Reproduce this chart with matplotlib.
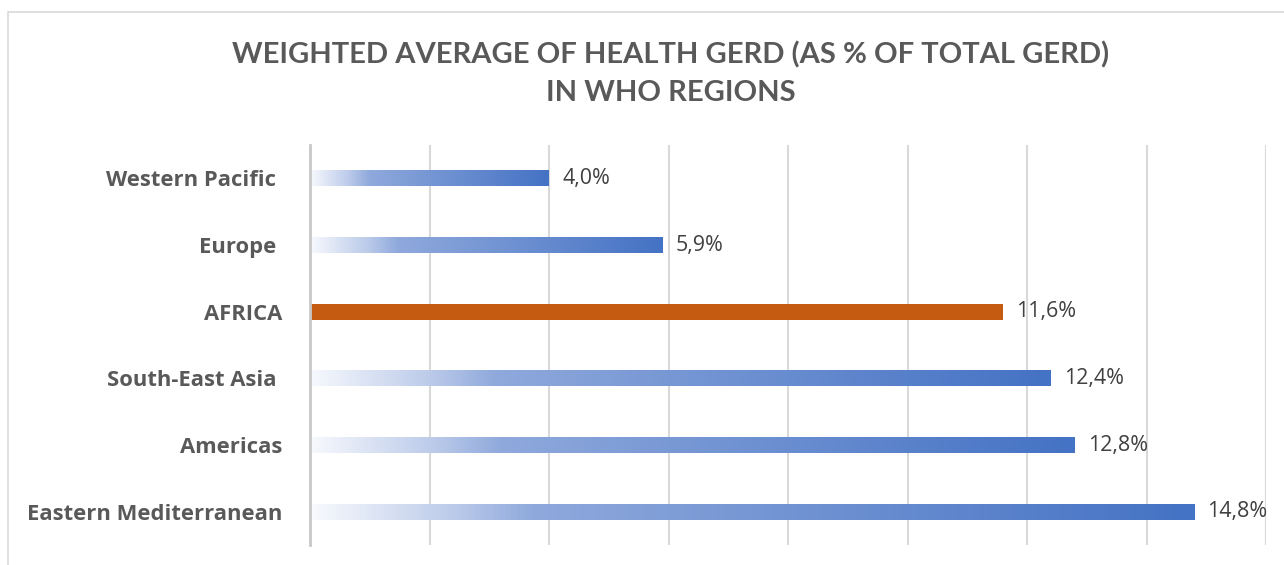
import numpy as np
import matplotlib
matplotlib.use('Agg')
from matplotlib import pyplot as plt
from matplotlib.colors import LinearSegmentedColormap
from matplotlib.patches import Rectangle

# Data (bottom to top)
regions = ['Eastern Mediterranean', 'Americas', 'South-East Asia ', 'AFRICA', 'Europe ', 'Western Pacific ']
values = [14.8, 12.8, 12.4, 11.6, 5.9, 4.0]
highlight = 'AFRICA'

blue_grad = LinearSegmentedColormap.from_list(
    'bar_grad', [(0.0, '#f7f9fd'), (0.16, '#bccbea'), (0.25, '#8fa9dc'), (1.0, '#4472c4')])
orange = '#c55a11'
label_col = '#595959'
value_col = '#404040'

plt.rcParams['font.family'] = ['Open Sans', 'DejaVu Sans']

fig = plt.figure(figsize=(12.84, 5.65), dpi=100)
ax = fig.add_axes([310 / 1284, 1 - 545 / 565, 956 / 1284, 400 / 565])

# chart border
fig.patches.append(Rectangle((8 / 1284, -0.1), 1.2, 1.1 - 12.5 / 565, transform=fig.transFigure,
                             fill=False, edgecolor='#d9d9d9', linewidth=1.2))

y = np.arange(len(regions))
bars = ax.barh(y, values, height=0.24, color='none', zorder=3)

grad = np.linspace(0, 1, 256).reshape(1, -1)
for bar, name in zip(bars, regions):
    if name == highlight:
        bar.set_facecolor(orange)
        continue
    x0, y0, w, h = bar.get_x(), bar.get_y(), bar.get_width(), bar.get_height()
    im = ax.imshow(grad, cmap=blue_grad, aspect='auto', extent=(x0, x0 + w, y0, y0 + h),
                   interpolation='bilinear', zorder=3)
    im.set_clip_path(bar)

for v, yy in zip(values, y):
    ax.text(v + 0.22, yy, f'{v:.1f}%'.replace('.', ','), va='center', ha='left',
            fontsize=15.4, color=value_col)

ax.set_xlim(0, 16)
ax.set_ylim(-0.5, len(regions) - 0.5)
ax.set_xticks(np.arange(0, 17, 2))
ax.set_yticks(y)
ax.set_yticklabels(regions, fontsize=15.8, fontweight='bold', color=label_col)
ax.tick_params(axis='y', length=0, pad=20)
ax.tick_params(axis='x', length=0, labelbottom=False)
ax.grid(axis='x', color='#d9d9d9', linewidth=1.5, zorder=0)
ax.set_axisbelow(True)
for side in ['top', 'right', 'bottom']:
    ax.spines[side].set_visible(False)
ax.spines['left'].set_color('#c8c8c8')
ax.spines['left'].set_linewidth(2)
ax.spines['left'].set_zorder(4)

fig.text(671 / 1284, 1 - 55 / 565, 'WEIGHTED AVERAGE OF HEALTH GERD (AS % OF TOTAL GERD)',
         ha='center', va='center', fontsize=21, fontweight='bold', color=label_col, family='Lato')
fig.text(671 / 1284, 1 - 93 / 565, 'IN WHO REGIONS',
         ha='center', va='center', fontsize=21, fontweight='bold', color=label_col, family='Lato')

fig.savefig('out.png', dpi=100, facecolor='white')
